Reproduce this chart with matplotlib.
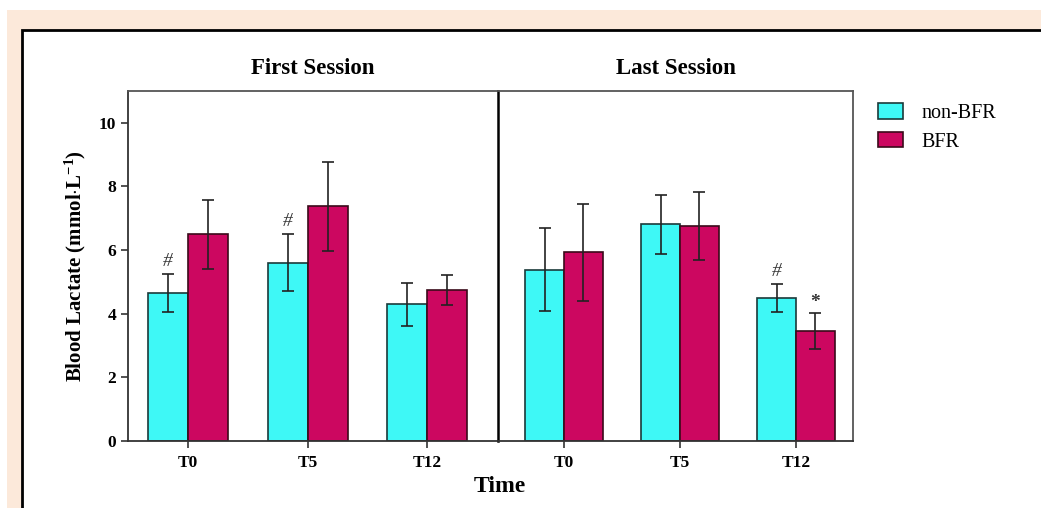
import matplotlib.pyplot as plt
from matplotlib.patches import Rectangle
import numpy as np

plt.rcParams['font.family'] = ['Liberation Serif', 'DejaVu Serif']
plt.rcParams['mathtext.fontset'] = 'custom'
plt.rcParams['mathtext.rm'] = 'Liberation Serif:bold'
plt.rcParams['mathtext.bf'] = 'Liberation Serif:bold'
plt.rcParams['mathtext.it'] = 'Liberation Serif:bold'

times = ["T0", "T5", "T12"]
sessions = ["First Session", "Last Session"]

# means and SD
first_non = [4.66, 5.61, 4.30]
first_non_err = [0.60, 0.90, 0.67]
first_bfr = [6.50, 7.37, 4.75]
first_bfr_err = [1.08, 1.40, 0.46]

last_non = [5.38, 6.81, 4.49]
last_non_err = [1.30, 0.93, 0.45]
last_bfr = [5.93, 6.76, 3.46]
last_bfr_err = [1.52, 1.07, 0.57]

first_non_marks = ["#", "#", ""]
first_bfr_marks = ["", "", ""]
last_non_marks = ["", "", "#"]
last_bfr_marks = ["", "", "*"]

cyan = "#3ef8f6"
magenta = "#cc0760"

W, H = 1041, 508
fig = plt.figure(figsize=(W / 100, H / 100), dpi=100)
fig.patch.set_facecolor("white")

# peach page background and white framed box
fig.patches.append(Rectangle((7 / W, 0), 1 - 7 / W, (H - 10) / H,
                             transform=fig.transFigure, facecolor="#fce9da",
                             edgecolor="none", zorder=-3))
fig.patches.append(Rectangle((22 / W, -0.01), 1.01 - 22 / W, (H - 30) / H + 0.01,
                             transform=fig.transFigure, facecolor="white",
                             edgecolor="black", linewidth=2, zorder=-2))

bottom = (H - 441) / H
height = 350 / H
ax1 = fig.add_axes([128 / W, bottom, 370 / W, height])
ax2 = fig.add_axes([498 / W, bottom, 355 / W, height], sharey=ax1)

bw = 1 / 3
panels = [
    (ax1, first_non, first_non_err, first_bfr, first_bfr_err,
     first_non_marks, first_bfr_marks, (-0.5, 2.59)),
    (ax2, last_non, last_non_err, last_bfr, last_bfr_err,
     last_non_marks, last_bfr_marks, (-0.57, 2.49)),
]

for i, (ax, non, non_e, bfr, bfr_e, nm, bm, xl) in enumerate(panels):
    x = np.arange(len(times))
    ekw = dict(ecolor="#222222", elinewidth=1.2, capsize=4, capthick=1.2)
    ax.bar(x - bw / 2, non, bw, yerr=non_e, color=cyan, edgecolor="#1a3a3a",
           linewidth=1.2, error_kw=ekw, label="non-BFR")
    ax.bar(x + bw / 2, bfr, bw, yerr=bfr_e, color=magenta, edgecolor="#3a0a1a",
           linewidth=1.2, error_kw=ekw, label="BFR")
    for j in range(len(times)):
        if nm[j]:
            ax.text(x[j] - bw / 2, non[j] + non_e[j] + 0.12, nm[j], ha="center",
                    va="bottom", fontsize=14, style="italic", color="#333333")
        if bm[j]:
            ax.text(x[j] + bw / 2, bfr[j] + bfr_e[j] + 0.05, bm[j], ha="center",
                    va="bottom", fontsize=14, fontweight="bold", color="#333333")
    ax.set_xlim(*xl)
    ax.set_ylim(0, 11)
    ax.set_xticks(x)
    ax.set_xticklabels(times, fontweight="bold", fontsize=12.5)
    ax.tick_params(axis="x", length=5, width=1.2, color="#333333", pad=5)
    ax.set_title(sessions[i], fontweight="bold", fontsize=16.5, pad=12)
    for s in ax.spines.values():
        s.set_color("#555555")
        s.set_linewidth(1.3)
    ax.spines["bottom"].set_color("#333333")

ax1.set_yticks([0, 2, 4, 6, 8, 10])
ax1.set_yticklabels(["0", "2", "4", "6", "8", "10"], fontweight="bold", fontsize=12.5)
ax1.tick_params(axis="y", length=5, width=1.2, color="#333333")
ax1.spines["right"].set_visible(False)
ax1.spines["left"].set_color("#333333")
ax2.spines["left"].set_color("black")
ax2.spines["left"].set_linewidth(1.8)
ax2.tick_params(axis="y", left=False, labelleft=False)

ax1.set_ylabel("Blood Lactate (mmol$\\cdot$L$^{-1}$)", fontweight="bold",
               fontsize=15, labelpad=8)

fig.text(500 / W, 1 - 486 / H, "Time", ha="center", va="center",
         fontweight="bold", fontsize=17)

handles, labels = ax2.get_legend_handles_labels()
fig.legend(handles, labels, loc="upper left", bbox_to_anchor=(860 / W, 1 - 85 / H),
           frameon=False, fontsize=14.5, handlelength=1.25, handleheight=0.8,
           handletextpad=0.9, labelspacing=0.45)

fig.savefig("out.png", dpi=100)
